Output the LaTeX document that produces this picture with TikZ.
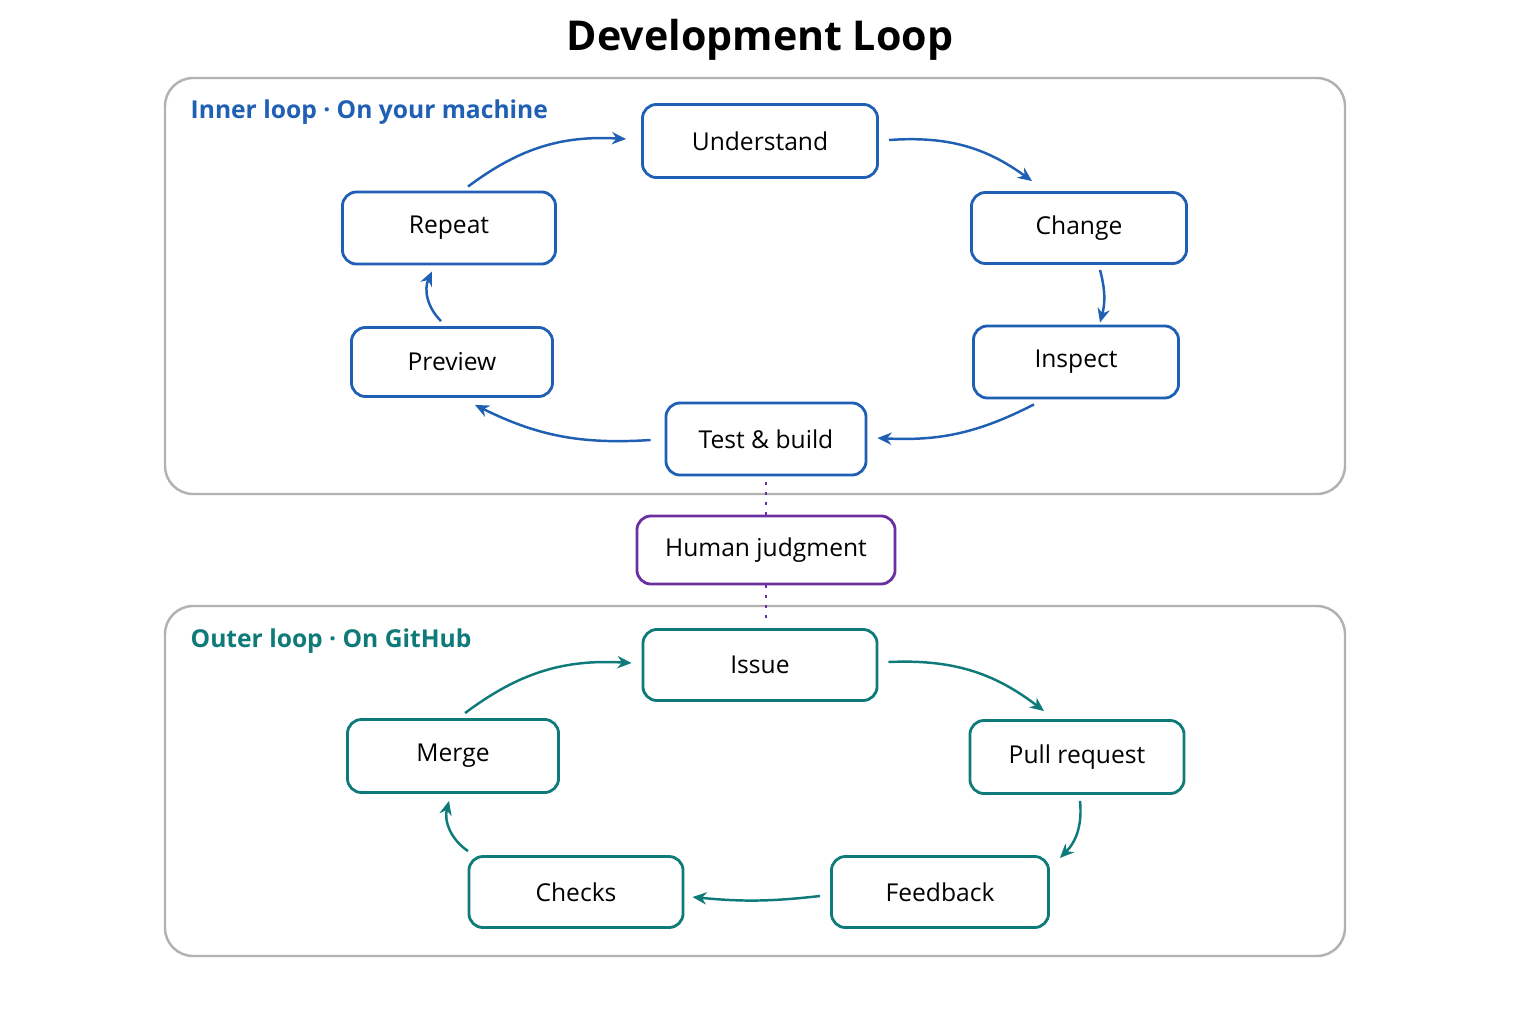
\documentclass[tikz,border=0pt]{standalone}
\usepackage{fontspec}
\setmainfont{Open Sans}
\usetikzlibrary{arrows.meta,calc}
\definecolor{inner}{HTML}{1F5FB4}
\definecolor{outer}{HTML}{0F7A7A}
\definecolor{judge}{HTML}{6A2FA0}
\begin{document}
\begin{tikzpicture}[x=0.01cm, y=-0.01cm,
stage/.style={draw, rounded corners=4pt, line width=0.8pt, fill=white, font=\fontsize{7}{9}\selectfont, text=black, inner sep=0pt},
flow/.style={line width=0.7pt, -{Stealth[length=4pt,width=3.5pt]}, bend left=#1},
flow/.default=20,
panel/.style={draw=black!30, rounded corners=8pt, line width=0.7pt},
tag/.style={anchor=west, inner sep=0pt, font=\fontsize{7}{9}\selectfont\bfseries}]

\fill[white] (0,0) rectangle (1536,1024);
\node[font=\fontsize{11.7}{14}\selectfont\bfseries] (title) at (760,40) {Development Loop};

% INNER LOOP
\draw[panel] (165,78) rectangle (1345,494);
\node[tag, text=inner] (innerTag) at (190,112) {Inner loop · On your machine};
\begin{scope}[every node/.style={stage, draw=inner}]
\node[minimum width=2.35cm, minimum height=0.73cm] (U) at (760,141) {Understand};
\node[minimum width=2.15cm, minimum height=0.71cm] (C) at (1079,228) {Change};
\node[minimum width=2.05cm, minimum height=0.72cm] (I) at (1076,362) {Inspect};
\node[minimum width=2.00cm, minimum height=0.72cm] (T) at (766,439) {Test \& build};
\node[minimum width=2.01cm, minimum height=0.69cm] (P) at (452,362) {Preview};
\node[minimum width=2.13cm, minimum height=0.72cm] (R) at (449,228) {Repeat};
\end{scope}
\begin{scope}[inner]
\draw[flow] ($(U.east)+(10,-1)$) to ($(C.north)+(-47,-10)$);
\draw[flow=15] ($(C.south)+(21,5)$) to ($(I.north)+(24,-2)$);
\draw[flow=15] ($(I.south)+(-42,5)$) to ($(T.east)+(10,-1)$);
\draw[flow=15] ($(T.west)+(-14,1)$) to ($(P.south)+(23,7)$);
\draw[flow=35] ($(P.north)+(-11,-5)$) to ($(R.south)+(-17,6)$);
\draw[flow] ($(R.north)+(19,-4)$) to ($(U.west)+(-15,-2)$);
\end{scope}

% HUMAN JUDGMENT
\node[stage, draw=judge, minimum width=2.58cm, minimum height=0.68cm] (H) at (766,550) {Human judgment};
\draw[judge, line width=0.8pt, dotted] ($(T.south)+(0,6)$) -- (H.north);

% OUTER LOOP
\draw[panel] (165,606) rectangle (1345,956);
\node[tag, text=outer] (outerTag) at (190,641) {Outer loop · On GitHub};
\draw[judge, line width=0.8pt, dotted] (H.south) -- (766,622);
\begin{scope}[every node/.style={stage, draw=outer}]
\node[minimum width=2.34cm, minimum height=0.71cm] (Is) at (760,665) {Issue};
\node[minimum width=2.14cm, minimum height=0.73cm] (PR) at (1077,757) {Pull request};
\node[minimum width=2.17cm, minimum height=0.71cm] (F) at (940,892) {Feedback};
\node[minimum width=2.14cm, minimum height=0.71cm] (Ch) at (576,892) {Checks};
\node[minimum width=2.11cm, minimum height=0.73cm] (M) at (453,756) {Merge};
\end{scope}
\begin{scope}[outer]
\draw[flow] ($(Is.east)+(10,-3)$) to ($(PR.north)+(-33,-8)$);
\draw[flow=25] ($(PR.south)+(3,6)$) to ($(F.east)+(10,-34)$);
\draw[flow=6] ($(F.west)+(-10,4)$) to ($(Ch.east)+(8,5)$);
\draw[flow=35] ($(Ch.north)+(-108,-4)$) to ($(M.south)+(-4,7)$);
\draw[flow] ($(M.north)+(12,-5)$) to ($(Is.west)+(-10,-2)$);
\end{scope}
\end{tikzpicture}
\end{document}
